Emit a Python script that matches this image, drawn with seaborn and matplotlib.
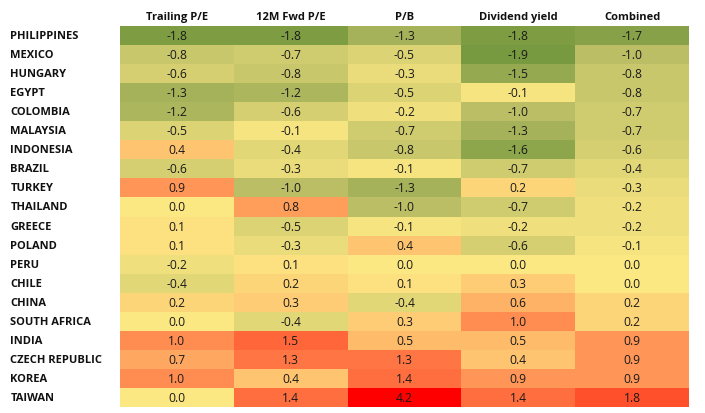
import numpy as np
import pandas as pd
import matplotlib
matplotlib.use("Agg")
import matplotlib.pyplot as plt
import seaborn as sns
from matplotlib.colors import LinearSegmentedColormap

countries = ["PHILIPPINES", "MEXICO", "HUNGARY", "EGYPT", "COLOMBIA", "MALAYSIA",
             "INDONESIA", "BRAZIL", "TURKEY", "THAILAND", "GREECE", "POLAND", "PERU",
             "CHILE", "CHINA", "SOUTH AFRICA", "INDIA", "CZECH REPUBLIC", "KOREA", "TAIWAN"]
columns = ["Trailing P/E", "12M Fwd P/E", "P/B", "Dividend yield", "Combined"]

trailing_pe = [-1.8, -0.8, -0.6, -1.3, -1.2, -0.5, 0.4, -0.6, 0.9, 0.0,
               0.1, 0.1, -0.2, -0.4, 0.2, 0.0, 1.0, 0.7, 1.0, 0.0]
fwd_pe = [-1.8, -0.7, -0.8, -1.2, -0.6, -0.1, -0.4, -0.3, -1.0, 0.8,
          -0.5, -0.3, 0.1, 0.2, 0.3, -0.4, 1.5, 1.3, 0.4, 1.4]
pb = [-1.3, -0.5, -0.3, -0.5, -0.2, -0.7, -0.8, -0.1, -1.3, -1.0,
      -0.1, 0.4, 0.0, 0.1, -0.4, 0.3, 0.5, 1.3, 1.4, 4.2]
div_yield = [-1.8, -1.9, -1.5, -0.1, -1.0, -1.3, -1.6, -0.7, 0.2, -0.7,
             -0.2, -0.6, 0.0, 0.3, 0.6, 1.0, 0.5, 0.4, 0.9, 1.4]
combined = [-1.7, -1.0, -0.8, -0.8, -0.7, -0.7, -0.6, -0.4, -0.3, -0.2,
            -0.2, -0.1, 0.0, 0.0, 0.2, 0.2, 0.9, 0.9, 0.9, 1.8]

df = pd.DataFrame({"Trailing P/E": trailing_pe, "12M Fwd P/E": fwd_pe, "P/B": pb,
                   "Dividend yield": div_yield, "Combined": combined}, index=countries)[columns]

# green - yellow - orange - red scale (anchored at -1.9, 0, 1, 2.5 then red to the max)
vmin, vmax = -1.9, 4.2
def pos(v):
    return (v - vmin) / (vmax - vmin)
cmap = LinearSegmentedColormap.from_list("gyr", [
    (pos(-1.9), "#77993f"),
    (pos(-1.0), "#bcbf66"),
    (pos(0.0), "#fde883"),
    (pos(1.0), "#ff8c51"),
    (pos(2.5), "#ff1a0a"),
    (pos(4.2), "#ff0000"),
])

sns.set_style("white")
plt.rcParams["font.family"] = ["Open Sans", "DejaVu Sans"]

fig = plt.figure(figsize=(7.05, 4.14), dpi=100)
ax = fig.add_axes([120 / 705, 1 - 408 / 414, (689 - 120) / 705, (408 - 27) / 414])
sns.heatmap(df, ax=ax, cmap=cmap, vmin=vmin, vmax=vmax, cbar=False,
            annot=True, fmt=".1f", annot_kws={"fontsize": 8.7, "color": "#1a1a1a"})

ax.xaxis.tick_top()
ax.tick_params(axis="both", length=0)
ax.set_xticklabels(columns, fontsize=8, fontweight="bold", color="#111111", rotation=0)
ax.set_yticklabels(countries, fontsize=8, fontweight="bold", color="#111111",
                   rotation=0, ha="left")
ax.tick_params(axis="y", pad=79)
ax.tick_params(axis="x", pad=3)
ax.set_xlabel("")
ax.set_ylabel("")

fig.savefig("out.png", dpi=100)
